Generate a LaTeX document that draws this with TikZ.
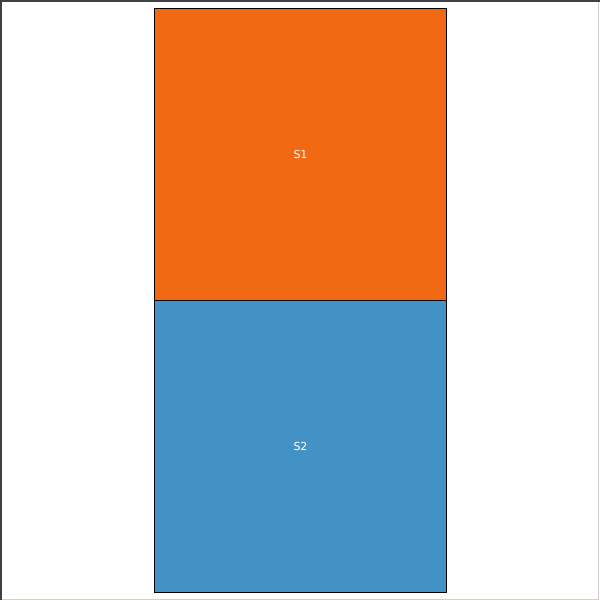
\documentclass[tikz,border=0pt]{standalone}
\usepackage{fontspec}
\setmainfont{DejaVu Sans}
\definecolor{sorange}{HTML}{F16913}
\definecolor{sblue}{HTML}{4292C6}
\definecolor{frameL}{HTML}{D4D0C8}
\begin{document}
\begin{tikzpicture}[x=1pt,y=-1pt,
  cell/.style={draw=black,line width=1pt,minimum width=292pt,minimum height=292pt,inner sep=0pt,text=white,font=\fontsize{11}{13}\selectfont}]
\useasboundingbox (0,0) rectangle (600,600);
\fill[white] (0,0) rectangle (600,600);
\draw[frameL,line width=1.5pt] (598.5,0) -- (598.5,599.25) -- (0,599.25);
\draw[black!75,line width=1.5pt] (0.75,600) -- (0.75,0.75) -- (600,0.75);
\node[cell,fill=sorange] (s1) at (300.5,154.5) {S1};
\node[cell,fill=sblue] (s2) at (300.5,446.5) {S2};
\end{tikzpicture}
\end{document}
